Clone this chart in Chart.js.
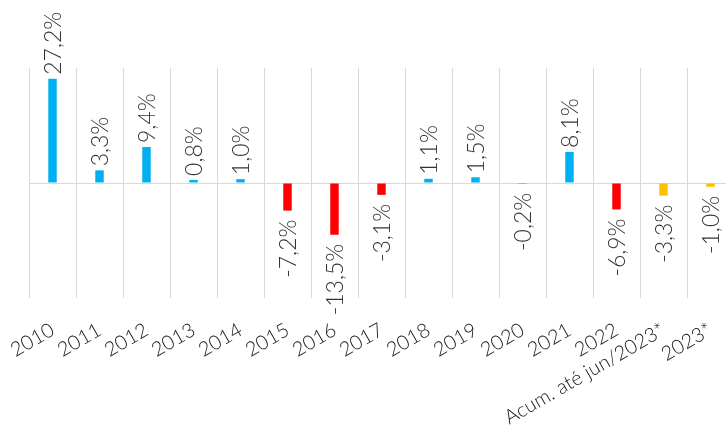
<!DOCTYPE html>
<html>
<head>
<meta charset="utf-8">
<script src="https://cdn.jsdelivr.net/npm/chart.js@4.4.0/dist/chart.umd.min.js"></script>
<style>
  html, body { margin: 0; padding: 0; background: #fff; overflow: hidden; }
  #wrap { position: relative; width: 740px; height: 434px; }
</style>
</head>
<body>
<div id="wrap"><canvas id="c"></canvas></div>
<script>
const categories = ["2010","2011","2012","2013","2014","2015","2016","2017","2018","2019","2020","2021","2022","Acum. até jun/2023*","2023*"];
const values = [27.2, 3.3, 9.4, 0.8, 1.0, -7.2, -13.5, -3.1, 1.1, 1.5, -0.2, 8.1, -6.9, -3.3, -1.0];
const barColors = ["#00B0F0","#00B0F0","#00B0F0","#00B0F0","#00B0F0","#FF0000","#FF0000","#FF0000","#00B0F0","#00B0F0","#FF0000","#00B0F0","#FF0000","#FFC000","#FFC000"];
const yMin = -30, yMax = 30;

const FONT = "Lato, 'Noto Sans', sans-serif";

const labelPlugin = {
  id: 'vlabels',
  afterDatasetsDraw(chart) {
    const ctx = chart.ctx;
    const meta = chart.getDatasetMeta(0);
    ctx.save();
    ctx.fillStyle = '#333333';
    ctx.font = '300 23px ' + FONT;
    ctx.textBaseline = 'middle';
    meta.data.forEach((bar, i) => {
      const v = values[i];
      const txt = v.toFixed(1).replace('.', ',') + '%';
      ctx.save();
      if (v >= 0) {
        ctx.translate(bar.x + 1, Math.min(bar.y, bar.base) - 4);
        ctx.rotate(-Math.PI / 2);
        ctx.textAlign = 'left';
      } else {
        ctx.translate(bar.x + 1, Math.max(bar.y, bar.base) + 9);
        ctx.rotate(-Math.PI / 2);
        ctx.textAlign = 'right';
      }
      ctx.fillText(txt, 0, 0);
      ctx.restore();
    });
    ctx.restore();
  }
};

new Chart(document.getElementById('c'), {
  type: 'bar',
  data: {
    labels: categories,
    datasets: [{
      data: values,
      backgroundColor: barColors,
      borderWidth: 0,
      categoryPercentage: 1,
      barPercentage: 0.18
    }]
  },
  options: {
    responsive: true,
    maintainAspectRatio: false,
    animation: false,
    layout: { padding: { left: 29, right: 6, top: 68, bottom: 0 } },
    plugins: { legend: { display: false }, tooltip: { enabled: false } },
    scales: {
      x: {
        grid: { color: '#d9d9d9', offset: true, drawTicks: false },
        border: { display: false },
        ticks: {
          color: '#1a1a1a',
          font: { family: FONT, size: 20, weight: '300' },
          maxRotation: 30, minRotation: 30,
          padding: 20,
          autoSkip: false
        },
        afterFit(scale) {
          scale.height = 136;
          scale.paddingLeft = 0;
          scale.paddingRight = 0;
        }
      },
      y: {
        min: yMin, max: yMax,
        ticks: { display: false, stepSize: 10 },
        grid: {
          drawTicks: false,
          color: (c) => (c.tick && c.tick.value === 0) ? '#d9d9d9' : 'rgba(0,0,0,0)'
        },
        border: { display: false },
        afterFit(scale) { scale.width = 0; }
      }
    }
  },
  plugins: [labelPlugin]
});
</script>
</body>
</html>
